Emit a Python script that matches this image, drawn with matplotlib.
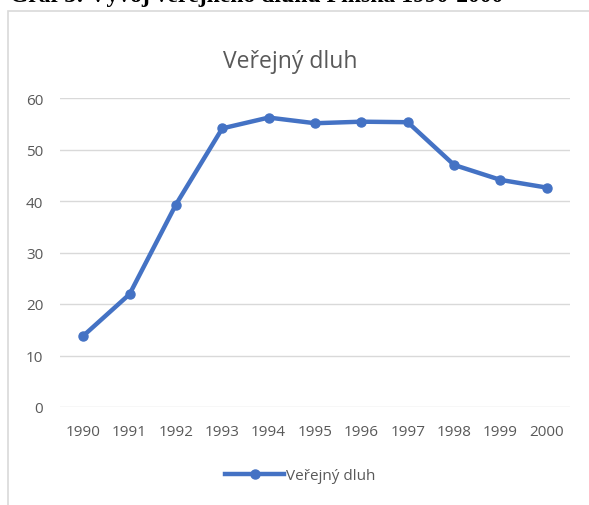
import matplotlib
matplotlib.use("Agg")
import matplotlib.pyplot as plt
from matplotlib.patches import Rectangle
from matplotlib.lines import Line2D

years = ["1990", "1991", "1992", "1993", "1994", "1995", "1996", "1997", "1998", "1999", "2000"]
debt = [13.8, 21.9, 39.3, 54.1, 56.2, 55.1, 55.4, 55.3, 47.0, 44.1, 42.6]
yticks = [0, 10, 20, 30, 40, 50, 60]

W, H = 589, 506
fig = plt.figure(figsize=(W / 100, H / 100), dpi=100)
fig.patch.set_facecolor("white")

# chart frame
frame = Rectangle((8 / W, -0.1), 1.2, (H - 12) / H + 0.1, transform=fig.transFigure,
                  facecolor="white", edgecolor="#d9d9d9", linewidth=1.2, zorder=-5)
fig.patches.append(frame)

# cut-off caption at top
fig.text(10 / W, 1 - 2 / H, "Graf 3: Vývoj veřejného dluhu Finska 1990-2000",
         family="Liberation Serif", fontweight="bold", fontsize=17, color="black",
         ha="left", va="baseline")

ax = fig.add_axes([60 / W, 1 - 408 / H, (570 - 60) / W, (408 - 99) / H])
ax.set_facecolor("none")
ax.set_zorder(2)
x = list(range(len(years)))
ax.plot(x, debt, color="#4472c4", linewidth=3.2, marker="o", markersize=6.5, solid_capstyle="round")
ax.set_xlim(-0.5, len(years) - 0.5)
ax.set_ylim(0, 60)
ax.set_yticks(yticks)
ax.set_xticks(x)
ax.set_xticklabels(years)
ax.grid(axis="y", color="#d9d9d9", linewidth=1)
ax.set_axisbelow(True)
for s in ax.spines.values():
    s.set_visible(False)
ax.tick_params(length=0, labelsize=11, labelcolor="#595959")
ax.tick_params(axis="x", pad=12)
ax.tick_params(axis="y", pad=12)
for lab in ax.get_xticklabels() + ax.get_yticklabels():
    lab.set_family("Open Sans")

fig.text(290 / W, 1 - 62 / H, "Veřejný dluh", family="Open Sans", fontsize=16.5,
         color="#595959", ha="center", va="center")

# legend
h = Line2D([0], [0], color="#4472c4", linewidth=3.2, marker="o", markersize=6.5)
fig.legend([h], ["Veřejný dluh"], loc="center", bbox_to_anchor=(300 / W, 1 - 477 / H),
           frameon=False, prop={"family": "Open Sans", "size": 11}, labelcolor="#595959",
           handlelength=3.9, handletextpad=0.1)

fig.savefig("out.png", dpi=100)
